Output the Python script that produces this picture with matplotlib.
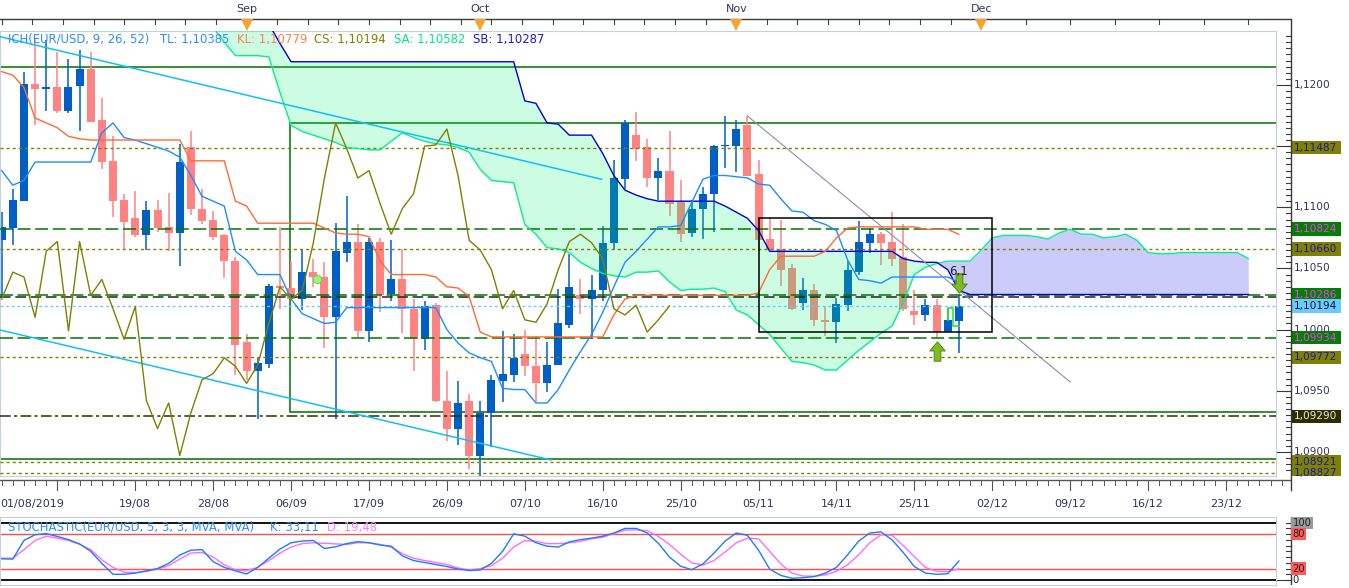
import numpy as np
import matplotlib.pyplot as plt
from matplotlib.patches import Rectangle
from matplotlib.path import Path

# EUR/USD daily candles, one entry per trading day from 01/08/2019 to 29/11/2019
opens = [1.1073, 1.1083, 1.1105, 1.1201, 1.1197, 1.1198, 1.1179, 1.1199, 1.1213, 1.1171,
         1.1138, 1.1106, 1.1091, 1.1077, 1.1098, 1.1084, 1.1079, 1.1149, 1.1099, 1.1090,
         1.1077, 1.1056, 1.0990, 1.0966, 1.0972, 1.1036, 1.1034, 1.1025, 1.1047, 1.1043,
         1.1010, 1.1063, 1.1072, 1.0999, 1.1072, 1.1029, 1.1041, 1.1017, 1.0992, 1.1020,
         1.0942, 1.0919, 1.0942, 1.0897, 1.0932, 1.0958, 1.0963, 1.0980, 1.0970, 1.0956,
         1.0971, 1.1004, 1.1028, 1.1025, 1.1032, 1.1071, 1.1123, 1.1159, 1.1149, 1.1124,
         1.1130, 1.1104, 1.1079, 1.1099, 1.1111, 1.1150, 1.1150, 1.1167, 1.1127, 1.1074,
         1.1066, 1.1050, 1.1022, 1.1032, 1.1008, 1.1006, 1.1020, 1.1047, 1.1071, 1.1078,
         1.1072, 1.1059, 1.1015, 1.1012, 1.1020, 1.0998, 1.1007]
highs = [1.1096, 1.1115, 1.1211, 1.1238, 1.1237, 1.1227, 1.1221, 1.1229, 1.1227, 1.1189,
         1.1158, 1.1111, 1.1113, 1.1105, 1.1106, 1.1112, 1.1152, 1.1162, 1.1115, 1.1097,
         1.1078, 1.1059, 1.0996, 1.0977, 1.1037, 1.1084, 1.1056, 1.1066, 1.1058, 1.1055,
         1.1087, 1.1109, 1.1086, 1.1075, 1.1075, 1.1073, 1.1066, 1.1025, 1.1023, 1.1022,
         1.0966, 1.0958, 1.0947, 1.0942, 1.0963, 1.0999, 1.0996, 1.1000, 1.0995, 1.0990,
         1.1033, 1.1062, 1.1041, 1.1045, 1.1085, 1.1139, 1.1171, 1.1178, 1.1156, 1.1140,
         1.1162, 1.1122, 1.1106, 1.1117, 1.1151, 1.1175, 1.1171, 1.1175, 1.1139, 1.1091,
         1.1090, 1.1054, 1.1042, 1.1037, 1.1019, 1.1026, 1.1056, 1.1089, 1.1083, 1.1080,
         1.1096, 1.1086, 1.1032, 1.1025, 1.1025, 1.1017, 1.1028]
lows = [1.1027, 1.1069, 1.1105, 1.1167, 1.1179, 1.1177, 1.1177, 1.1162, 1.1170, 1.1131,
        1.1092, 1.1066, 1.1076, 1.1065, 1.1080, 1.1064, 1.1052, 1.1094, 1.1086, 1.1073,
        1.1042, 1.0963, 1.0959, 1.0927, 1.0969, 1.1017, 1.1024, 1.1016, 1.1035, 1.0985,
        1.0927, 1.1055, 1.0994, 1.0990, 1.1014, 1.1023, 1.0997, 1.0966, 1.0983, 1.0941,
        1.0909, 1.0906, 1.0886, 1.0880, 1.0904, 1.0941, 1.0957, 1.0962, 1.0941, 1.0949,
        1.0971, 1.1001, 1.1013, 1.0992, 1.1023, 1.1065, 1.1115, 1.1138, 1.1117, 1.1106,
        1.1093, 1.1072, 1.1076, 1.1074, 1.1080, 1.1132, 1.1129, 1.1126, 1.1064, 1.1064,
        1.1036, 1.1016, 1.1016, 1.1003, 1.0995, 1.0989, 1.1015, 1.1045, 1.1063, 1.1053,
        1.1052, 1.1015, 1.1004, 1.1007, 1.0993, 1.0998, 1.0981]
closes = [1.1084, 1.1106, 1.1201, 1.1197, 1.1198, 1.1179, 1.1198, 1.1213, 1.1170, 1.1137,
          1.1105, 1.1088, 1.1077, 1.1098, 1.1083, 1.1079, 1.1137, 1.1099, 1.1089, 1.1076,
          1.1056, 1.0987, 1.0966, 1.0973, 1.1036, 1.1034, 1.1025, 1.1047, 1.1043, 1.1010,
          1.1064, 1.1072, 1.0999, 1.1072, 1.1028, 1.1041, 1.1017, 1.0992, 1.1019, 1.0942,
          1.0919, 1.0940, 1.0897, 1.0932, 1.0959, 1.0964, 1.0977, 1.0970, 1.0956, 1.0971,
          1.1005, 1.1035, 1.1025, 1.1032, 1.1071, 1.1124, 1.1169, 1.1148, 1.1124, 1.1130,
          1.1103, 1.1078, 1.1099, 1.1111, 1.1150, 1.1151, 1.1164, 1.1126, 1.1073, 1.1065,
          1.1049, 1.1017, 1.1032, 1.1008, 1.1006, 1.1021, 1.1049, 1.1072, 1.1078, 1.1071,
          1.1058, 1.1017, 1.1012, 1.1020, 1.0998, 1.1008, 1.10194]

# ichimoku lines as drawn on the chart
tenkan = [1.1130, 1.1118, 1.1122, 1.1137, 1.1137, 1.1137, 1.1137, 1.1137, 1.1137, 1.1161,
          1.1169, 1.1157, 1.1155, 1.1152, 1.1149, 1.1146, 1.1141, 1.1126, 1.1109, 1.1105,
          1.1101, 1.1064, 1.1057, 1.1045, 1.1045, 1.1045, 1.1025, 1.1013, 1.1009, 1.1005,
          1.1006, 1.1018, 1.1018, 1.1018, 1.1018, 1.1018, 1.1018, 1.1018, 1.1018, 1.1018,
          1.1000, 1.0989, 1.0981, 1.0977, 1.0974, 1.0952, 1.0951, 1.0951, 1.0940, 1.0940,
          1.0951, 1.0967, 1.0982, 1.0996, 1.1014, 1.1035, 1.1055, 1.1064, 1.1074, 1.1084,
          1.1084, 1.1085, 1.1104, 1.1123, 1.1126, 1.1126, 1.1125, 1.1124, 1.1119, 1.1118,
          1.1107, 1.1097, 1.1096, 1.1089, 1.1086, 1.1081, 1.1057, 1.1041, 1.1040, 1.1038,
          1.1043, 1.1043, 1.1043, 1.1043, 1.1043, 1.1043, 1.10385]
kijun = [1.1211, 1.1208, 1.1198, 1.1173, 1.1169, 1.1165, 1.1158, 1.1156, 1.1155, 1.1155,
         1.1155, 1.1155, 1.1155, 1.1155, 1.1155, 1.1155, 1.1155, 1.1138, 1.1138, 1.1138,
         1.1138, 1.1105, 1.1101, 1.1087, 1.1087, 1.1087, 1.1087, 1.1087, 1.1087, 1.1083,
         1.1079, 1.1078, 1.1078, 1.1076, 1.1056, 1.1045, 1.1045, 1.1045, 1.1045, 1.1043,
         1.1035, 1.1034, 1.1027, 1.0998, 1.0994, 1.0994, 1.0994, 1.0994, 1.0994, 1.0994,
         1.0994, 1.0994, 1.0994, 1.0994, 1.0994, 1.1012, 1.1025, 1.1028, 1.1028, 1.1028,
         1.1028, 1.1028, 1.1028, 1.1028, 1.1028, 1.1028, 1.1028, 1.1028, 1.1030, 1.1049,
         1.1060, 1.1060, 1.1060, 1.1060, 1.1064, 1.1075, 1.1083, 1.1084, 1.1084, 1.1084,
         1.1084, 1.1084, 1.1084, 1.1082, 1.1082, 1.1082, 1.10779]
chikou_shift = 26

# senkou spans, starting at bar 19 and running 26 bars past the last candle
cloud_start = 19
senkou_a = [1.1247, 1.1235, 1.1224, 1.1224, 1.1224, 1.1223, 1.1194, 1.1167, 1.1162, 1.1159,
            1.1156, 1.1153, 1.1149, 1.1148, 1.1147, 1.1147, 1.1154, 1.1161, 1.1157, 1.1154,
            1.1152, 1.1151, 1.1149, 1.1145, 1.1131, 1.1122, 1.1121, 1.1120, 1.1086, 1.1078,
            1.1067, 1.1066, 1.1063, 1.1055, 1.1050, 1.1046, 1.1044, 1.1043, 1.1047, 1.1047,
            1.1048, 1.1039, 1.1032, 1.1033, 1.1033, 1.1034, 1.1031, 1.1016, 1.1012, 1.1004,
            1.0996, 1.0985, 1.0974, 1.0973, 1.0971, 1.0967, 1.0967, 1.0975, 1.0983, 1.0990,
            1.0997, 1.1003, 1.1022, 1.1045, 1.1051, 1.1054, 1.1056, 1.1056, 1.1056, 1.1065,
            1.1075, 1.1077, 1.1077, 1.1077, 1.1076, 1.1074, 1.1079, 1.1082, 1.1078, 1.1078,
            1.1075, 1.1076, 1.1078, 1.1073, 1.1063, 1.1062, 1.1062, 1.1063, 1.1063, 1.1063,
            1.1063, 1.1063, 1.1063, 1.10582]
senkou_b = ([1.1250] * 6 + [1.1234] + [1.1219] * 21
            + [1.1187, 1.1185, 1.1169, 1.1168, 1.1159, 1.1159, 1.1159, 1.1144, 1.1126, 1.1114,
               1.1110, 1.1107]
            + [1.1105] * 6 + [1.1101, 1.1096, 1.1091, 1.1081] + [1.1064] * 12
            + [1.1058, 1.1056, 1.1055, 1.1055, 1.1049, 1.1032] + [1.10287] * 26)

# stochastic (5, 3, 3)
stoch_k = [37, 36.5, 69, 79, 81, 76, 70.5, 63, 50, 29,
           10, 10, 12, 16, 20, 29, 43.5, 52, 53, 32,
           22, 16, 10.5, 22, 38, 54, 65, 68, 69, 55,
           58, 63.5, 67, 65, 61, 59, 42, 34, 30.5, 27,
           23.5, 19, 16.5, 17.5, 29, 50, 80.5, 76.5, 65, 59,
           57.5, 66.5, 70.5, 73, 76.5, 82, 90, 90, 82, 64,
           40, 24, 18, 28, 47, 68, 82, 78, 52, 19,
           8, 3, 4, 6, 12, 22, 44, 68, 82, 84,
           70, 48, 23.5, 12, 10, 11, 33.11]
stoch_d = [38, 38, 53, 69, 76.5, 73, 69, 62, 53, 35,
           22, 13.5, 13, 15, 19, 25, 36.5, 47, 48, 40,
           26.5, 17.5, 16, 22, 34, 47, 57.5, 63.5, 65, 64,
           63, 62, 65, 65, 62, 57.5, 46, 38, 34, 30.5,
           27, 21, 17.5, 20, 25, 38, 57.5, 69, 67.5, 63.5,
           63.5, 65, 67.5, 72, 74.5, 81, 87, 87.5, 86, 76,
           62, 45, 30, 26, 34, 49, 65, 73, 72, 50,
           28, 12, 7, 6.5, 9, 15, 26.5, 44, 65, 79,
           78, 60, 41, 22, 15, 14.7, 19.48]

# time axis labels (bar slot, label)
date_slots = [12, 19, 26, 33, 40, 47, 54, 61, 68, 75, 82, 89, 96, 103, 110]
date_labels = ['19/08', '28/08', '06/09', '17/09', '26/09', '07/10', '16/10', '25/10',
               '05/11', '14/11', '25/11', '02/12', '09/12', '16/12', '23/12']
first_date_label = '01/08/2019'
month_slots = [22, 43, 66, 88]
month_labels = ['Sep', 'Oct', 'Nov', 'Dec']

# horizontal levels drawn on the chart
levels_dotted = [1.11487, 1.10660, 1.09772, 1.08921, 1.08827]
levels_dashed = [1.10824, 1.10286, 1.09934]
level_dashdot = 1.09290
level_black = 1.1027
levels_solid = [1.12145, 1.0894]

# drawing objects: (slot, price) end points
upper_channel = ([-0.15, 53.9], [1.12395, 1.11229])
lower_channel = ([-0.15, 49.35], [1.09997, 1.08934])
gray_trend = ([67.0, 96.0], [1.11747, 1.09572])
black_box = (68.0, 89.0, 1.09978, 1.1091)
green_box = (25.9, 120.0, 1.09324, 1.11687)
signal_up = (84, 1.09825)
signal_down = (86, 1.10381)
signal_text = (86, 1.10479, '6,1')
step_line = ([85, 85, 85.5, 85.5, 86], [1.10078, 1.10174, 1.10174, 1.10029, 1.10029])

# ---------------------------------------------------------------------------
W, H = 1349, 588
SLOT_PX, SLOT0_PX = 11.13, 1.7
PRICE_PX, REF_PRICE, REF_Y = 12230.0, 1.12, 85.0
BULL, BEAR = '#005fc4', '#ff8383'
FRAME = '#c6d0dc'
AXC = '#3a3a3a'
TXT = '#33335e'
STOCH_TOP, STOCH_BOT = 516.7, 585.0   # panel edges in pixels
S100, S0 = 522.7, 580.0                # pixel rows of the 100 and 0 levels


def slots(px0, px1):
    return (px0 - SLOT0_PX) / SLOT_PX, (px1 - SLOT0_PX) / SLOT_PX


def prices(y_top, y_bot):
    return REF_PRICE - (y_bot - REF_Y) / PRICE_PX, REF_PRICE - (y_top - REF_Y) / PRICE_PX


def stoch_lim():
    per = (S0 - S100) / 100.0
    return -(STOCH_BOT - S0) / per, 100 + (S100 - STOCH_TOP) / per


def fmt(v, nd=5):
    return f"{v:.{nd}f}".replace('.', ',')


fig = plt.figure(figsize=(W / 100, H / 100), dpi=100)


def px_axes(x0, y0, x1, y1):
    return fig.add_axes([x0 / W, 1 - y1 / H, (x1 - x0) / W, (y1 - y0) / H])


# ---- main price panel
ax = px_axes(0, 31, 1276, 476)
ax.set_xlim(*slots(0, 1276))
ax.set_ylim(*prices(31, 476))
ax.set_xticks([])
ax.set_yticks([])
for s in ax.spines.values():
    s.set_color(FRAME)

o, h, l, c = map(np.array, (opens, highs, lows, closes))
idx = np.arange(len(c))
cols = np.where(c >= o, BULL, BEAR)
ax.vlines(idx, l, h, colors=cols, lw=1.1, zorder=2)
ax.bar(idx, np.maximum(np.abs(c - o), 1.6 / PRICE_PX), bottom=np.minimum(o, c),
       width=0.72, color=cols, lw=0, zorder=2.2)

ks = np.arange(cloud_start, cloud_start + len(senkou_a))
sa, sb = np.array(senkou_a), np.array(senkou_b)
ax.fill_between(ks, sa, sb, where=sa <= sb, interpolate=True,
                color=(0, 0.94, 0.43), alpha=0.2, lw=0, zorder=3)
ax.fill_between(ks, sa, sb, where=sa >= sb, interpolate=True,
                color=(0, 0, 0.9), alpha=0.2, lw=0, zorder=3)
ax.plot(ks, sa, color='#00f08c', lw=1, zorder=4)
ax.plot(ks, sb, color='#0000dd', lw=1, zorder=4)

for p in levels_solid:
    ax.axhline(p, color='#007000', lw=1.1, zorder=1.5)
x0b, x1b, y0b, y1b = green_box
ax.add_patch(Rectangle((x0b, y0b), x1b - x0b, y1b - y0b, fill=False,
                       ec='#007000', lw=1.1, zorder=1.5))
for p in levels_dotted:
    ax.axhline(p, color='#808000', lw=1, ls=(0, (2.2, 2.2)), zorder=3.5)
for p in levels_dashed:
    ax.axhline(p, color='#007700', lw=1.1, ls=(0, (8.5, 3)), zorder=3.5)
ax.axhline(level_dashdot, color='#2e2e00', lw=1.1, ls=(0, (7, 2.2, 2, 2.2)), zorder=3.5)
ax.axhline(level_black, color='#222222', lw=1.1, ls=(0, (7, 3)), zorder=3.5)
ax.axhline(closes[-1], color='#66ccff', lw=1, ls=(0, (2, 2)), zorder=3.5)

ax.plot(*upper_channel, color='#12c0f0', lw=1.1, zorder=4.2)
ax.plot(*lower_channel, color='#12c0f0', lw=1.1, zorder=4.2)
ax.plot(*gray_trend, color='#8c8cae', lw=0.8, zorder=5)
x0b, x1b, y0b, y1b = black_box
ax.add_patch(Rectangle((x0b, y0b), x1b - x0b, y1b - y0b, fill=False,
                       ec='black', lw=1.1, zorder=5))

ax.plot(idx, tenkan, color='#1e8cff', lw=1, zorder=4.5)
ax.plot(idx, kijun, color='#ff6a33', lw=1, zorder=4.5)
ax.plot(idx[:len(c) - chikou_shift], c[chikou_shift:], color='#808000', lw=1, zorder=4.5)
ax.plot(*step_line, color='#2ee82e', lw=1.2, zorder=5)

arrow = [(-0.35, -1), (0.35, -1), (0.35, 0.05), (0.8, 0.05), (0, 1), (-0.8, 0.05),
         (-0.35, 0.05), (-0.35, -1)]
codes = [Path.MOVETO] + [Path.LINETO] * 6 + [Path.CLOSEPOLY]
up_arrow = Path(arrow, codes)
down_arrow = Path([(x, -y) for x, y in arrow], codes)
ax.plot(*signal_up, marker=up_arrow, ms=14, color='#7bbd1e', mec='#4c7a0c', mew=0.6, zorder=6)
ax.plot(*signal_down, marker=down_arrow, ms=14, color='#7bbd1e', mec='#4c7a0c', mew=0.6, zorder=6)
ax.text(signal_text[0], signal_text[1], signal_text[2], ha='center', va='center',
        fontsize=8.5, color='#222222', zorder=6)
ax.plot(28.3, 1.1041, 'o', ms=6, color='#9cf57a', mec='#5fcf3a', mew=0.6, zorder=4.6)

# ---- price scale
axp = px_axes(1276, 31, 1349, 476)
axp.set_xlim(1276, 1349)
axp.set_ylim(*prices(31, 476))
axp.axis('off')
boxed = levels_dotted + levels_dashed + [level_dashdot, closes[-1]]
for p in np.round(np.arange(1.0880, 1.1245, 0.0005), 4):
    axp.plot([1286, 1291], [p, p], color=AXC, lw=0.8)
for p in np.round(np.arange(1.0900, 1.1201, 0.0050), 4):
    axp.plot([1276.5, 1291], [p, p], color=AXC, lw=0.8)
    # a label that sits right under a level box is not visible in the chart
    if min(abs(p - q) for q in boxed) * PRICE_PX > 5:
        axp.text(1294, p, fmt(p, 4), fontsize=7.6, color=TXT, va='center', ha='left', zorder=2)


def price_box(p, face, txt_col, z):
    hh = 13.5 / PRICE_PX
    axp.add_patch(Rectangle((1291.5, p - hh / 2), 49, hh, fc=face, ec='none', zorder=z))
    axp.text(1293.5, p, fmt(p), fontsize=7.6, color=txt_col, va='center', ha='left',
             zorder=z + 0.1)


for p in levels_dotted:
    price_box(p, '#808000', '#1616a8', 3)
for p in levels_dashed:
    price_box(p, '#008000', '#ff33ff', 3)
price_box(level_dashdot, '#2c2c05', '#eeeed0', 3)
price_box(closes[-1], '#66ccff', '#10102a', 4)

# ---- top time axis with month markers
axt = px_axes(0, 0, 1291, 31)
axt.set_xlim(*slots(0, 1291))
axt.set_ylim(31, 0)
axt.axis('off')
axt.plot(axt.get_xlim(), [19, 19], color=AXC, lw=1)
for t in np.concatenate([np.arange(0, 88, 2.75), np.arange(88, 116, 4)]):
    axt.plot([t, t], [19, 24], color=AXC, lw=0.8)
for m, lab in zip(month_slots, month_labels):
    axt.text(m, 9, lab, ha='center', va='center', fontsize=8, color=TXT)
    axt.plot(m, 24.5, marker='v', ms=8, color='#f7a52a', mew=0)

# ---- bottom date axis
axd = px_axes(0, 476, 1291, 516)
axd.set_xlim(*slots(0, 1291))
axd.set_ylim(516, 476)
axd.axis('off')
axd.plot(axd.get_xlim(), [480, 480], color='#555555', lw=1)
for t in range(0, 116):
    axd.plot([t, t], [480, 485], color='#555555', lw=0.7)
for t in range(5, 116, 7):
    axd.plot([t, t], [480, 490], color='#555555', lw=0.8)
axd.text(axd.get_xlim()[0], 504.5, first_date_label, ha='left', va='center', fontsize=8, color=TXT)
for t, lab in zip(date_slots, date_labels):
    axd.text(t, 504.5, lab, ha='center', va='center', fontsize=8, color=TXT)

# ---- stochastic panel
axs = px_axes(0, STOCH_TOP, 1276, STOCH_BOT)
axs.set_xlim(*slots(0, 1276))
axs.set_ylim(*stoch_lim())
axs.set_xticks([])
axs.set_yticks([])
for s in axs.spines.values():
    s.set_color(FRAME)
for v in (0, 100):
    axs.axhline(v, color='black', lw=1.3)
for v in (20, 80):
    axs.axhline(v, color='#ff4d4d', lw=1)
sidx = np.arange(len(stoch_k))
axs.plot(sidx, stoch_d, color='#ff6cff', lw=1)
axs.plot(sidx, stoch_k, color='#1a7dff', lw=1)

axsp = px_axes(1276, STOCH_TOP, 1349, STOCH_BOT)
axsp.set_xlim(1276, 1349)
axsp.set_ylim(*stoch_lim())
axsp.axis('off')
axsp.plot([1291, 1291], list(stoch_lim()), color=AXC, lw=1)
for v in range(0, 101, 10):
    axsp.plot([1286, 1291], [v, v], color=AXC, lw=0.8)
axsp.plot([1276.5, 1291], [0, 0], color=AXC, lw=0.8)
for v, face in [(100, '#9c9c9c'), (80, '#ff5a5a'), (20, '#ff5a5a'), (0, 'none')]:
    axsp.text(1292.5, v, str(v), fontsize=7.2, color='#222222', va='center', ha='left',
              bbox=dict(boxstyle='square,pad=0.12', fc=face, ec='none'))

# ---- overlay: headers and axis lines in pixel coordinates
axo = fig.add_axes([0, 0, 1, 1])
axo.set_xlim(0, W)
axo.set_ylim(H, 0)
axo.axis('off')
axo.set_zorder(10)
axo.plot([1291, 1291], [19, 490], color=AXC, lw=1)

head = [("ICH(EUR/USD, 9, 26, 52)", 8, '#2e8cff'),
        ("TL: " + fmt(tenkan[-1]), 160, '#2e8cff'),
        ("KL: " + fmt(kijun[-1]), 237, '#ff7f50'),
        ("CS: " + fmt(closes[-1]), 314, '#808000'),
        ("SA: " + fmt(senkou_a[-1]), 394, '#00e68a'),
        ("SB: " + fmt(senkou_b[-1]), 473, '#1a1ae0')]
for s, x, col in head:
    axo.text(x, 39, s, fontsize=8.4, color=col, va='center', ha='left')

stoch_head = [("STOCHASTIC(EUR/USD, 5, 3, 3, MVA, MVA)", 8, '#2e8cff'),
              ("K: " + fmt(stoch_k[-1], 2), 270, '#2e8cff'),
              ("D: " + fmt(stoch_d[-1], 2), 327, '#ff80ff')]
for s, x, col in stoch_head:
    axo.text(x, 527.5, s, fontsize=8.4, color=col, va='center', ha='left')

fig.savefig('out.png', dpi=100)
